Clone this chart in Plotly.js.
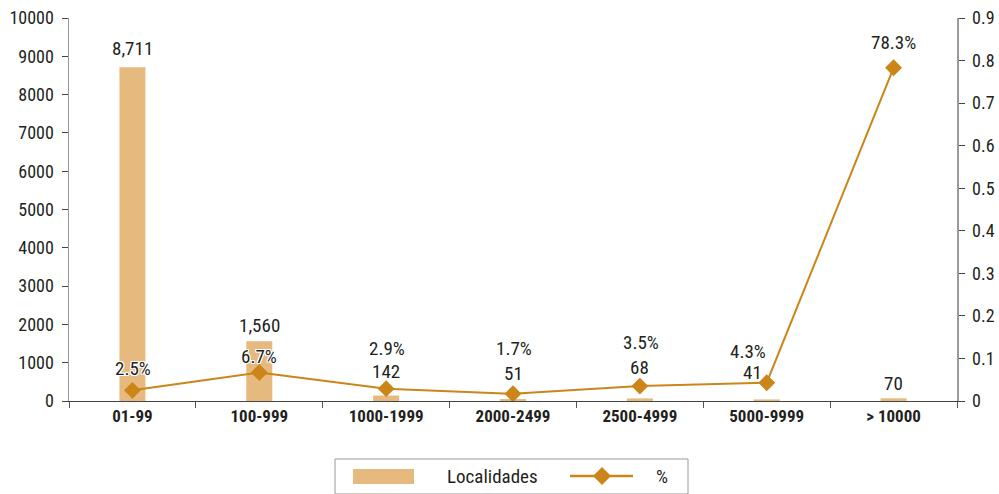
<!DOCTYPE html>
<html><head><meta charset="utf-8">
<script src="https://cdn.plot.ly/plotly-3.0.1.min.js"></script>
<style>html,body{margin:0;padding:0;background:#fff}#chart{width:999px;height:494px}</style>
</head><body><div id="chart"></div>
<script>
const categories = ["01-99","100-999","1000-1999","2000-2499","2500-4999","5000-9999","> 10000"];
const localidades = [8711,1560,142,51,68,41,70];
const pct = [0.025,0.067,0.029,0.017,0.035,0.043,0.783];
const pctLabels = ["2.5%","6.7%","2.9%","1.7%","3.5%","4.3%","78.3%"];

// label offsets (style, px)
const barLabelShift = [19,16,24,26,31,27,15];
const barLabelXShift = [0,0,0,0,0,-14,0];
const pctLabelShift = [22,16,40,45,44,31,25];
const pctLabelXShift = [1,0,1,1,1,-19,0];

const FONT = '"Roboto Condensed","Liberation Sans",Arial,sans-serif';
const BAR = '#E6B97F', LINE = '#CB8519', TXT = '#231f20';
const HALO = 'white 1px 0 0, white -1px 0 0, white 0 1px 0, white 0 -1px 0, white 1px 1px 0, white -1px -1px 0, white 1px -1px 0, white -1px 1px 0';
const W=999,H=494,L=69,R=42,T=18,B=93;
const pw=W-L-R, ph=H-T-B;
const px=x=>(x-L)/pw, py=y=>(H-B-y)/ph;

const annotations=[];
categories.forEach((c,i)=>{
  annotations.push({x:c,y:localidades[i],xref:'x',yref:'y',text:localidades[i].toLocaleString('en-US'),
    showarrow:false,yanchor:'middle',yshift:barLabelShift[i],xshift:barLabelXShift[i],font:{family:FONT,size:19,color:TXT,shadow:HALO}});
  annotations.push({x:c,y:pct[i],xref:'x',yref:'y2',text:pctLabels[i],showarrow:false,
    yanchor:'middle',yshift:pctLabelShift[i],xshift:pctLabelXShift[i],font:{family:FONT,size:19,color:TXT,shadow:HALO}});
});
// legend
annotations.push({x:px(445),y:py(476),xref:'paper',yref:'paper',xanchor:'left',yanchor:'middle',text:'Localidades',showarrow:false,font:{family:FONT,size:19,color:TXT}});
annotations.push({x:px(654),y:py(476),xref:'paper',yref:'paper',xanchor:'left',yanchor:'middle',text:'%',showarrow:false,font:{family:FONT,size:19,color:TXT}});

const shapes=[
  {type:'rect',xref:'paper',yref:'paper',x0:px(335),x1:px(688),y0:py(459),y1:py(494),line:{color:'#9a9a9a',width:1},fillcolor:'rgba(0,0,0,0)',layer:'above'},
  {type:'rect',xref:'paper',yref:'paper',x0:px(353),x1:px(414),y0:py(469),y1:py(484),line:{width:0},fillcolor:BAR},
  {type:'line',xref:'paper',yref:'paper',x0:px(570),x1:px(633),y0:py(476),y1:py(476),line:{color:LINE,width:2.5}},
  {type:'path',xref:'paper',yref:'paper',path:`M ${px(593)} ${py(476)} L ${px(602)} ${py(467)} L ${px(611)} ${py(476)} L ${px(602)} ${py(485)} Z`,fillcolor:LINE,line:{width:0}}
];

const traces=[
  {type:'bar',x:categories,y:localidades,name:'Localidades',marker:{color:BAR},width:0.205,hoverinfo:'none'},
  {type:'scatter',mode:'lines+markers',x:categories,y:pct,yaxis:'y2',name:'%',
   line:{color:LINE,width:2},marker:{symbol:'diamond',size:13,color:LINE},cliponaxis:false,hoverinfo:'none'}
];
const layout={
  width:W,height:H,margin:{l:L,r:R,t:T,b:B},paper_bgcolor:'#fff',plot_bgcolor:'#fff',
  showlegend:false,font:{family:FONT,size:18,color:TXT},
  xaxis:{type:'category',tickson:'boundaries',ticks:'outside',ticklen:6,tickcolor:'#555',showline:true,linecolor:'#444',linewidth:1,
    showgrid:false,tickfont:{family:FONT,size:17,color:TXT,weight:'bold'},zeroline:false},
  yaxis:{range:[0,10000],dtick:1000,tickformat:'d',showgrid:false,zeroline:false,showline:true,linecolor:'#999',linewidth:1.5,
    ticks:'outside',ticklen:6,tickcolor:'#444',tickfont:{family:FONT,size:18,color:TXT},ticklabelstandoff:4},
  yaxis2:{range:[0,0.9],dtick:0.1,overlaying:'y',side:'right',showgrid:false,zeroline:false,showline:true,linecolor:'#999',linewidth:1.5,
    ticks:'outside',ticklen:6,tickcolor:'#444',tickfont:{family:FONT,size:18,color:TXT},ticklabelstandoff:4},
  annotations,shapes
};
Plotly.newPlot('chart',traces,layout,{staticPlot:true});
</script></body></html>
